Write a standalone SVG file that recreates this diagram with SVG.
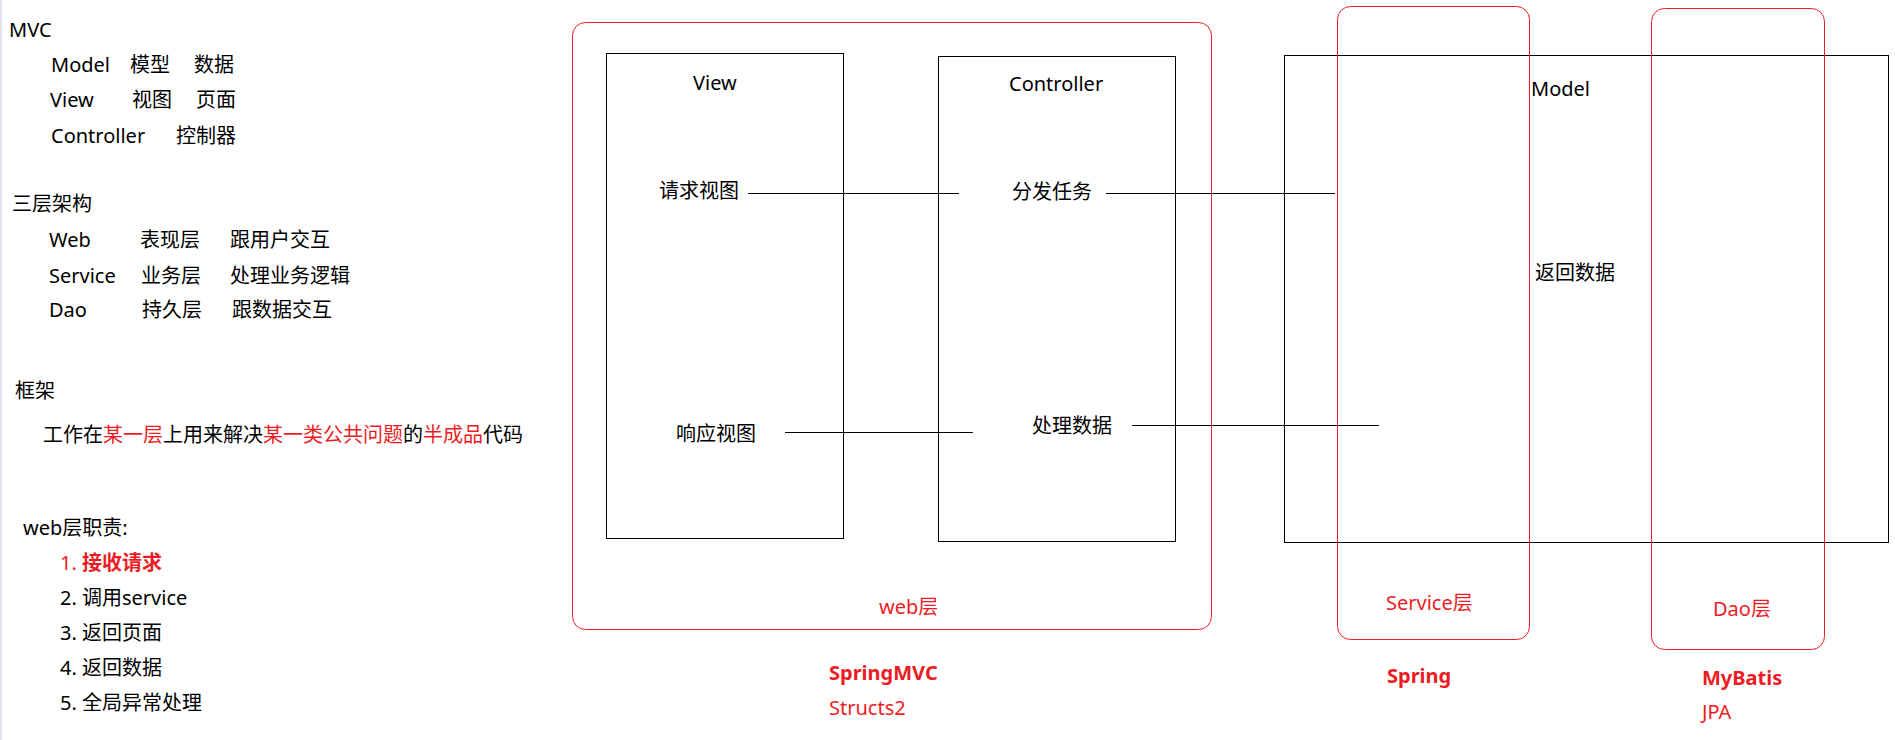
<svg xmlns="http://www.w3.org/2000/svg" width="1895" height="740" viewBox="0 0 1895 740">
<style>
text{font-family:"Noto Sans","Open Sans","Noto Sans CJK SC",sans-serif;font-size:20px;fill:#000}
.r{fill:#ed1c24}
.b{font-weight:bold}
.box{fill:none;stroke:#000;stroke-width:1}
.layer{fill:none;stroke:#ed1c24;stroke-width:1}
.conn{stroke:#000;stroke-width:1;fill:none}
</style>
<rect x="0" y="0" width="2" height="740" fill="#dde3ee"/>
<g id="notes">
<text x="9" y="37">MVC</text>
<text x="51" y="72">Model</text><text x="130" y="72">模型</text><text x="194" y="72">数据</text>
<text x="50" y="107">View</text><text x="132" y="107">视图</text><text x="196" y="107">页面</text>
<text x="51" y="143">Controller</text><text x="176" y="143">控制器</text>
<text x="12" y="211">三层架构</text>
<text x="49" y="247">Web</text><text x="140" y="247">表现层</text><text x="230" y="247">跟用户交互</text>
<text x="49" y="283">Service</text><text x="141" y="283">业务层</text><text x="230" y="283">处理业务逻辑</text>
<text x="49" y="317">Dao</text><text x="142" y="317">持久层</text><text x="232" y="317">跟数据交互</text>
<text x="15" y="398">框架</text>
<text x="43" y="442">工作在<tspan class="r">某一层</tspan>上用来解决<tspan class="r">某一类公共问题</tspan>的<tspan class="r">半成品</tspan>代码</text>
<text x="23" y="535">web层职责:</text>
<text x="60" y="570" class="r">1. <tspan class="b">接收请求</tspan></text>
<text x="60" y="605">2. 调用service</text>
<text x="60" y="640">3. 返回页面</text>
<text x="60" y="675">4. 返回数据</text>
<text x="60" y="710">5. 全局异常处理</text>
</g>
<g id="web-layer">
<rect class="layer" x="572.5" y="22.5" width="639" height="607" rx="13"/>
<text class="r" x="879" y="614">web层</text>
</g>
<g id="view">
<rect class="box" x="606.5" y="53.5" width="237" height="485"/>
<text x="693" y="90">View</text>
<text x="659" y="198">请求视图</text>
<text x="676" y="441">响应视图</text>
</g>
<g id="controller">
<rect class="box" x="938.5" y="56.5" width="237" height="485"/>
<text x="1009" y="91">Controller</text>
<text x="1012" y="199">分发任务</text>
<text x="1032" y="433">处理数据</text>
</g>
<g id="model">
<rect class="box" x="1284.5" y="55.5" width="604" height="487"/>
<text x="1531" y="96">Model</text>
<text x="1535" y="280">返回数据</text>
</g>
<g id="service-layer">
<rect class="layer" x="1337.5" y="6.5" width="192" height="633" rx="13"/>
<text class="r" x="1386" y="610">Service层</text>
</g>
<g id="dao-layer">
<rect class="layer" x="1651.5" y="8.5" width="173" height="641" rx="13"/>
<text class="r" x="1713" y="616">Dao层</text>
</g>
<g id="frameworks">
<text class="r b" x="829" y="680">SpringMVC</text>
<text class="r" x="829" y="715">Structs2</text>
<text class="r b" x="1387" y="683">Spring</text>
<text class="r b" x="1702" y="685">MyBatis</text>
<text class="r" x="1702" y="719">JPA</text>
</g>
<g id="connectors">
<line class="conn" x1="748" y1="193.5" x2="959" y2="193.5"/>
<line class="conn" x1="1106" y1="193.5" x2="1335" y2="193.5"/>
<line class="conn" x1="785" y1="432.5" x2="973" y2="432.5"/>
<line class="conn" x1="1132" y1="425.5" x2="1379" y2="425.5"/>
</g>
</svg>
